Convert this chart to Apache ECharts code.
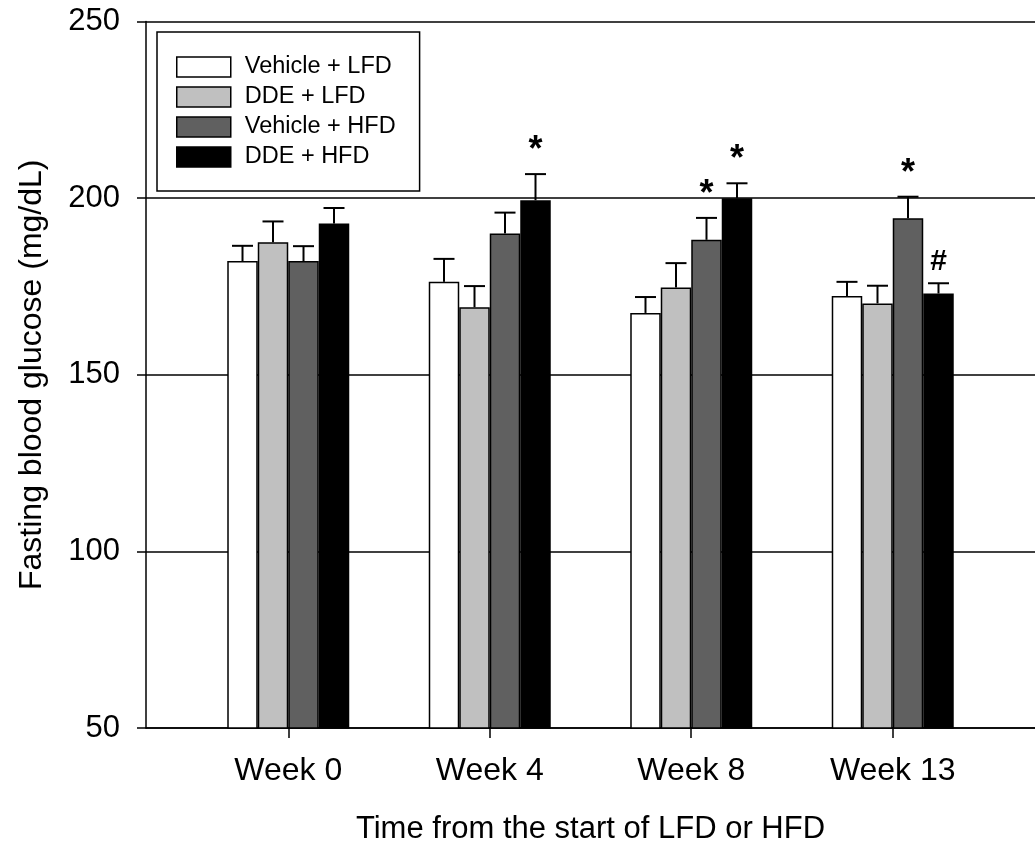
<!DOCTYPE html>
<html>
<head>
<meta charset="utf-8">
<script src="https://cdn.jsdelivr.net/npm/echarts@6/dist/echarts.min.js"></script>
<style>
  html, body { margin: 0; padding: 0; background: #fff; }
  #chart { width: 1035px; height: 850px; }
</style>
</head>
<body>
<div id="chart"></div>
<script>
// categories sit at slots 1..4 of a value axis, so the left gap can differ from the bar spacing
const categories = ['Week 0', 'Week 4', 'Week 8', 'Week 13'];
const slots = [1, 2, 3, 4];
const groupNames = ['Vehicle + LFD', 'DDE + LFD', 'Vehicle + HFD', 'DDE + HFD'];

// mean fasting glucose (mg/dL) and upper error (SEM)
const vehicleLfd = [182.2, 176.3, 167.5, 172.3];
const vehicleLfdErr = [4.3, 6.5, 4.5, 4.0];
const ddeLfd = [187.5, 169.1, 174.7, 170.2];
const ddeLfdErr = [5.9, 6.0, 6.9, 5.0];
const vehicleHfd = [182.2, 190.0, 188.2, 194.3];
const vehicleHfdErr = [4.2, 5.9, 6.2, 6.1];
const ddeHfd = [192.8, 199.4, 200.0, 173.0];
const ddeHfdErr = [4.4, 7.4, 4.2, 2.9];

// significance marks above the error bars
const vehicleLfdMarks = ['', '', '', ''];
const ddeLfdMarks = ['', '', '', ''];
const vehicleHfdMarks = ['', '', '*', '*'];
const ddeHfdMarks = ['', '*', '*', '#'];

const yTicks = [50, 100, 150, 200, 250];

const means = [vehicleLfd, ddeLfd, vehicleHfd, ddeHfd];
const errs = [vehicleLfdErr, ddeLfdErr, vehicleHfdErr, ddeHfdErr];
const marks = [vehicleLfdMarks, ddeLfdMarks, vehicleHfdMarks, ddeHfdMarks];
const colors = ['#ffffff', '#c0c0c0', '#606060', '#000000'];

const FONT = 'Liberation Sans, Arial, sans-serif';
const BAR_W = 30.5;
const CAP = 21;

const chart = echarts.init(document.getElementById('chart'));

const barSeries = groupNames.map(function (name, k) {
  return {
    type: 'bar',
    name: name,
    data: slots.map(function (s, i) { return [s, means[k][i]]; }),
    barWidth: BAR_W,
    barGap: '0%',
    itemStyle: { color: colors[k], borderColor: '#000', borderWidth: 1.5 },
    emphasis: { disabled: true },
    z: 2
  };
});

const errSeries = groupNames.map(function (name, k) {
  return {
    type: 'custom',
    name: 'err' + k,
    z: 5,
    silent: true,
    data: slots.map(function (s, i) { return [s, means[k][i], errs[k][i]]; }),
    encode: { x: 0, y: 1 },
    renderItem: function (params, api) {
      const x = api.value(0), m = api.value(1), e = api.value(2);
      const base = api.coord([x, m]);
      const top = api.coord([x, m + e]);
      const cx = base[0] + (k - 1.5) * BAR_W;
      const st = { stroke: '#000', lineWidth: 2 };
      const children = [
        { type: 'line', shape: { x1: cx, y1: base[1], x2: cx, y2: top[1] }, style: st },
        { type: 'line', shape: { x1: cx - CAP / 2, y1: top[1], x2: cx + CAP / 2, y2: top[1] }, style: st }
      ];
      const mk = marks[k][params.dataIndex];
      if (mk) {
        const star = mk === '*';
        children.push({
          type: 'text',
          style: {
            text: mk,
            x: cx,
            y: top[1] - (star ? 5 : 7),
            align: 'center',
            verticalAlign: 'bottom',
            fontSize: star ? 36 : 30,
            fontWeight: 'bold',
            fontFamily: FONT,
            fill: '#000'
          }
        });
      }
      return { type: 'group', children: children };
    }
  };
});

const option = {
  animation: false,
  backgroundColor: '#fff',
  textStyle: { fontFamily: FONT, color: '#000' },
  grid: { left: 146, top: 21.5, width: 897, height: 710 },
  legend: {
    data: groupNames,
    orient: 'vertical',
    left: 157,
    top: 32,
    icon: 'rect',
    itemWidth: 54,
    itemHeight: 20,
    itemGap: 6,
    padding: [23, 24, 22, 19],
    borderColor: '#000',
    borderWidth: 1.5,
    selectedMode: false,
    itemStyle: { borderColor: '#000', borderWidth: 1.5 },
    textStyle: { fontSize: 23.5, color: '#000', lineHeight: 20, padding: [0, 0, 0, 9], fontFamily: FONT }
  },
  xAxis: {
    type: 'value',
    min: 0.294,
    max: 4.706,
    name: 'Time from the start of LFD or HFD',
    nameLocation: 'middle',
    nameGap: 86,
    nameTextStyle: { fontSize: 31, color: '#000', fontFamily: FONT },
    axisLine: { show: true, onZero: false, lineStyle: { color: '#000', width: 1.5 } },
    axisTick: { show: true, customValues: slots, length: 10, lineStyle: { color: '#000', width: 1.5 } },
    axisLabel: {
      customValues: slots,
      formatter: function (v) { return categories[slots.indexOf(v)]; },
      margin: 27,
      fontSize: 32,
      color: '#000',
      fontFamily: FONT
    },
    splitLine: { show: false }
  },
  yAxis: {
    type: 'value',
    min: yTicks[0],
    max: yTicks[yTicks.length - 1],
    interval: yTicks[1] - yTicks[0],
    name: 'Fasting blood glucose (mg/dL)',
    nameLocation: 'middle',
    nameGap: 98,
    nameTextStyle: { fontSize: 32, color: '#000', fontFamily: FONT },
    axisLine: { show: true, lineStyle: { color: '#000', width: 1.5 } },
    axisTick: { show: true, length: 9, lineStyle: { color: '#000', width: 1.5 } },
    axisLabel: { fontSize: 31, color: '#000', margin: 26, fontFamily: FONT },
    splitLine: { show: true, lineStyle: { color: '#000', width: 1.5 } }
  },
  series: barSeries.concat(errSeries)
};

chart.setOption(option);
</script>
</body>
</html>
